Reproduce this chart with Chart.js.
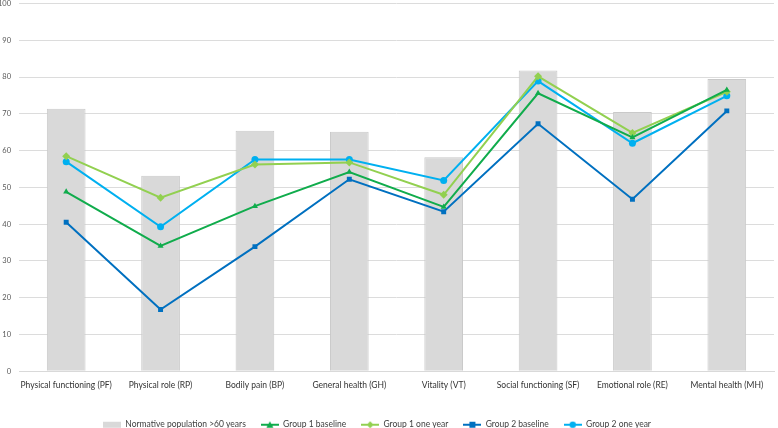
<!DOCTYPE html>
<html>
<head>
<meta charset="utf-8">
<script src="https://cdn.jsdelivr.net/npm/chart.js@4/dist/chart.umd.min.js"></script>
<style>
  html, body { margin: 0; padding: 0; background: #fff; }
  #frame { width: 778px; height: 428px; overflow: hidden; position: relative; }
  #wrap { position: absolute; left: 0; top: -9px; width: 778px; height: 448px; }
</style>
</head>
<body>
<div id="frame"><div id="wrap"><canvas id="mycanvas"></canvas></div></div>
<script>
var categories = ['Physical functioning (PF)', 'Physical role (RP)', 'Bodily pain (BP)', 'General health (GH)',
  'Vitality (VT)', 'Social functioning (SF)', 'Emotional role (RE)', 'Mental health (MH)'];
var normative = [71.4, 53.2, 65.4, 65.1, 58.2, 81.8, 70.5, 79.5];
var group1Baseline = [48.8, 34.1, 44.9, 54.2, 44.7, 75.6, 63.6, 76.5];
var group1OneYear = [58.5, 47.2, 56.2, 56.8, 48.0, 80.2, 64.8, 76.0];
var group2Baseline = [40.5, 16.8, 33.9, 52.2, 43.4, 67.3, 46.8, 70.8];
var group2OneYear = [57.0, 39.3, 57.6, 57.6, 51.9, 78.9, 62.0, 74.9];
var yTicks = [0, 10, 20, 30, 40, 50, 60, 70, 80, 90, 100];

// small legend pictures: line with marker in the middle
function legendIcon(color, style) {
  var c = document.createElement('canvas');
  c.width = 18; c.height = 8;
  var g = c.getContext('2d');
  g.fillStyle = color; g.strokeStyle = color;
  if (style === 'bar') {
    g.fillStyle = '#d9d9d9';
    g.fillRect(0, 1, 18, 6);
    return c;
  }
  g.lineWidth = 2;
  g.beginPath(); g.moveTo(0, 4); g.lineTo(18, 4); g.stroke();
  g.beginPath();
  if (style === 'triangle') { g.moveTo(9, 0.5); g.lineTo(12.5, 7); g.lineTo(5.5, 7); g.closePath(); }
  else if (style === 'rectRot') { g.moveTo(9, 0.5); g.lineTo(12.5, 4); g.lineTo(9, 7.5); g.lineTo(5.5, 4); g.closePath(); }
  else if (style === 'rect') { g.rect(6, 1, 6, 6); }
  else { g.arc(9, 4, 3.2, 0, Math.PI * 2); }
  g.fill();
  return c;
}

function lineSet(label, data, color, style) {
  return {
    type: 'line', label: label, data: data, order: 0,
    borderColor: color, backgroundColor: color, borderWidth: 2,
    pointStyle: style, pointRadius: style === 'rectRot' ? 4 : 3.5,
    pointBorderWidth: 0, pointBackgroundColor: color,
    legendIcon: legendIcon(color, style), tension: 0
  };
}

var datasets = [
  { type: 'bar', label: 'Normative population >60 years', data: normative, order: 1,
    backgroundColor: '#d9d9d9', borderColor: '#c9c9c9', borderWidth: 1,
    barPercentage: 1, categoryPercentage: 0.41, legendIcon: legendIcon('#d9d9d9', 'bar') },
  lineSet('Group 1 baseline', group1Baseline, '#10ac4c', 'triangle'),
  lineSet('Group 1 one year', group1OneYear, '#92d050', 'rectRot'),
  lineSet('Group 2 baseline', group2Baseline, '#0070c0', 'rect'),
  lineSet('Group 2 one year', group2OneYear, '#00b0f0', 'circle')
];

Chart.defaults.font.family = 'Lato, "Liberation Sans", sans-serif';

// legend sits a little left of centre in the original
var legendShift = {
  id: 'legendShift',
  afterLayout: function(chart) { chart.legend.right -= 24; }
};

var ctx = document.getElementById('mycanvas');
var chart = new Chart(ctx, {
  type: 'bar',
  data: { labels: categories, datasets: datasets },
  plugins: [legendShift],
  options: {
    responsive: true,
    maintainAspectRatio: false,
    animation: false,
    layout: { padding: 0 },
    plugins: {
      tooltip: { enabled: false },
      legend: {
        position: 'bottom',
        labels: {
          usePointStyle: true,
          pointStyleWidth: 18,
          boxHeight: 8,
          padding: 15,
          color: '#404040',
          font: { size: 8.5 },
          sort: function(a, b) { return a.datasetIndex - b.datasetIndex; },
          generateLabels: function(chart) {
            return chart.data.datasets.map(function(ds, i) {
              return { text: ds.label, pointStyle: ds.legendIcon, datasetIndex: i,
                fillStyle: ds.backgroundColor, strokeStyle: ds.backgroundColor, lineWidth: 0,
                fontColor: '#404040' };
            });
          }
        }
      }
    },
    scales: {
      x: {
        grid: { display: false },
        border: { color: '#d9d9d9' },
        afterFit: function(scale) { scale.height += 14; },
        ticks: { color: '#333333', font: { size: 8.5 }, maxRotation: 0, autoSkip: false, padding: 1 }
      },
      y: {
        min: 0, max: 100,
        afterFit: function(scale) { scale.width = 19; },
        afterBuildTicks: function(scale) { scale.ticks = yTicks.map(function(v) { return { value: v }; }); },
        grid: { color: '#dcdcdc', drawTicks: false },
        border: { display: false },
        ticks: { color: '#595959', font: { size: 7.5 }, padding: 8 }
      }
    }
  }
});
</script>
</body>
</html>
